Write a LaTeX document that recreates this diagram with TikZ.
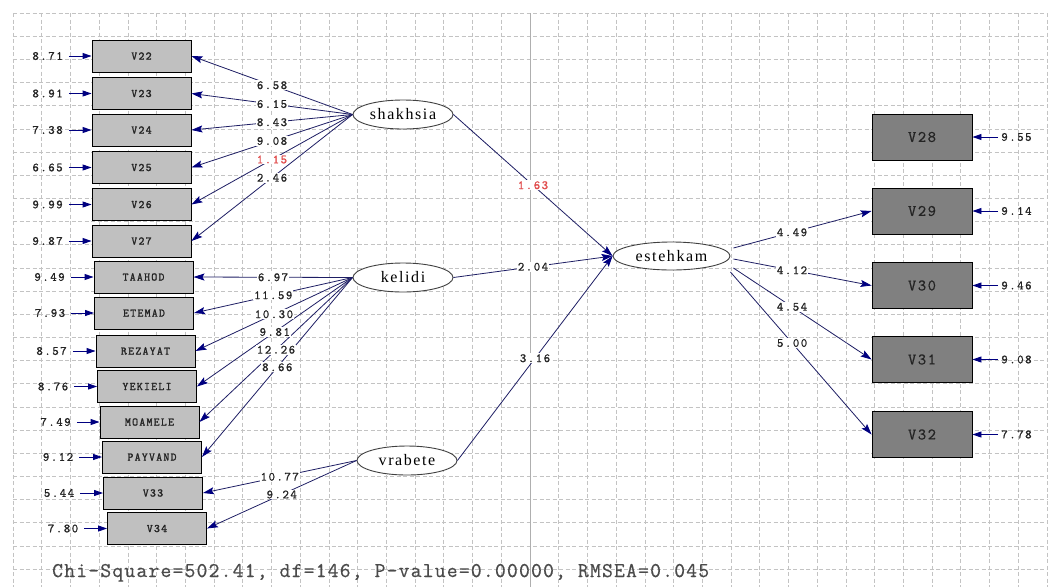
\documentclass[tikz,border=0pt]{standalone}
\usepackage{fontspec}
\setmainfont{Liberation Serif}
\usetikzlibrary{arrows.meta,shapes.geometric}
\definecolor{navy}{RGB}{0,0,128}
\definecolor{pathc}{RGB}{30,30,100}
\definecolor{lgray}{RGB}{192,192,192}
\definecolor{dgray}{RGB}{128,128,128}
\definecolor{gridc}{RGB}{195,195,195}
\definecolor{centc}{RGB}{175,175,175}
\definecolor{redl}{RGB}{225,75,75}
\definecolor{txt}{RGB}{35,35,35}
\definecolor{chic}{RGB}{75,75,75}
\newfontfamily\lismono[LetterSpace=12,FakeBold=1]{Latin Modern Mono}
\newfontfamily\boxmono[LetterSpace=11,FakeBold=1.6]{Latin Modern Mono}
\newfontfamily\bigmono[LetterSpace=10,FakeBold=0.8]{Latin Modern Mono}
\newfontfamily\chimono[LetterSpace=5.8,FakeBold=0.5]{Latin Modern Mono}
\newfontfamily\lisserif[LetterSpace=10]{Liberation Serif}
\tikzset{
  gridl/.style={gridc, dash pattern=on 4pt off 2.5pt, line width=0.7pt},
  lbox/.style={draw=black, fill=lgray, minimum width=99pt, minimum height=32pt, inner sep=0pt, line width=0.9pt, text=txt, font=\boxmono\fontsize{11.5}{12}\selectfont},
  rbox/.style={draw=black, fill=dgray, minimum width=100pt, minimum height=46pt, inner sep=0pt, line width=0.9pt, text=txt, font=\bigmono\fontsize{16}{16}\selectfont},
  lat/.style={ellipse, draw=black!75, fill=white, line width=0.9pt, minimum width=100pt, minimum height=29pt, inner sep=0pt, font=\lisserif\fontsize{16}{16}\selectfont},
  load/.style={draw=pathc, line width=0.8pt, -{Stealth[length=11pt,width=7pt,inset=2pt,color=navy]}},
  val/.style={fill=white, inner sep=1pt, text=txt, font=\lismono\fontsize{12.5}{13}\selectfont},
  redval/.style={val, text=redl},
  elab/.style={inner sep=1pt, text=txt, font=\lismono\fontsize{12.5}{13}\selectfont},
  errar/.style={draw=navy, line width=0.9pt, -{Triangle[length=9pt,width=6pt]}}
}
\begin{document}
\begin{tikzpicture}[x=1pt,y=-1pt]
\fill[white] (0,0) rectangle (1051,587);
\useasboundingbox (0,0) rectangle (1051,587);
% grid
\foreach \k in {0,...,24} \draw[gridl] (13,{13+23.17*\k}) -- (1047,{13+23.17*\k});
\foreach \k in {0,...,36} \draw[gridl] ({13+28.72*\k},13) -- ({13+28.72*\k},587);
\draw[centc, line width=0.8pt] (530,13) -- (530,587);

% observed variables, left
\node[lbox] (V22) at (141.5,56) {V22};
\node[lbox] (V23) at (141.5,93.5) {V23};
\node[lbox] (V24) at (141.5,130) {V24};
\node[lbox] (V25) at (141.5,167.5) {V25};
\node[lbox] (V26) at (141.5,204.5) {V26};
\node[lbox] (V27) at (141.5,241) {V27};
\node[lbox] (TAAHOD) at (143.5,277) {TAAHOD};
\node[lbox] (ETEMAD) at (144,313) {ETEMAD};
\node[lbox] (REZAYAT) at (145.5,351) {REZAYAT};
\node[lbox] (YEKIELI) at (147,386.5) {YEKIELI};
\node[lbox] (MOAMELE) at (149.5,422) {MOAMELE};
\node[lbox] (PAYVAND) at (152,457) {PAYVAND};
\node[lbox] (V33) at (153,493) {V33};
\node[lbox] (V34) at (157,528.5) {V34};

% observed variables, right
\node[rbox] (V28) at (922,137) {V28};
\node[rbox] (V29) at (922,211) {V29};
\node[rbox] (V30) at (922,285.5) {V30};
\node[rbox] (V31) at (922,359.5) {V31};
\node[rbox] (V32) at (922,434.5) {V32};

% latent variables
\node[lat] (shakhsia) at (403,114.5) {shakhsia};
\node[lat] (kelidi) at (403,277.5) {kelidi};
\node[lat] (vrabete) at (407,460.5) {vrabete};
\node[lat, minimum width=117pt, minimum height=28pt] (estehkam) at (671.5,256) {estehkam};

% error terms, left
\foreach \b/\v in {V22/8.71, V23/8.91, V24/7.38, V25/6.65, V26/9.99, V27/9.87, TAAHOD/9.49, ETEMAD/7.93, REZAYAT/8.57, YEKIELI/8.76, MOAMELE/7.49, PAYVAND/9.12, V33/5.44, V34/7.80}{
  \node[elab] (e\b) at ([xshift=-44pt]\b.west) {\v};
  \draw[errar, shorten <=5pt] (e\b.east) -- (\b.west);
}
% error terms, right
\foreach \b/\v in {V28/9.55, V29/9.14, V30/9.46, V31/9.08, V32/7.78}{
  \node[elab] (e\b) at ([xshift=44pt]\b.east) {\v};
  \draw[errar, shorten <=2pt] (e\b.west) -- (\b.east);
}

% loadings: lines
\foreach \b in {V22,V23,V24,V25,V26,V27} \draw[load] (shakhsia.west) -- (\b.east);
\foreach \b in {TAAHOD,ETEMAD,REZAYAT,YEKIELI,MOAMELE,PAYVAND} \draw[load] (kelidi.west) -- (\b.east);
\foreach \b in {V33,V34} \draw[load] (vrabete.west) -- (\b.east);
\draw[load] (shakhsia.east) -- (estehkam.west);
\draw[load] (kelidi.east) -- (estehkam.west);
\draw[load] (vrabete.east) -- (estehkam.west);
\draw[load] ([shift={(3,-8)}]estehkam.east) -- (V29.west);
\draw[load] ([shift={(3,3)}]estehkam.east) -- (V30.west);
\draw[load] ([shift={(3,12)}]estehkam.east) -- (V31.west);
\draw[load] ([shift={(0,16)}]estehkam.east) -- (V32.west);

% loadings: values
\foreach \b/\v in {V22/6.58, V23/6.15, V24/8.43, V25/9.08, V27/2.46} \path (shakhsia.west) -- node[val]{\v} (\b.east);
\path (shakhsia.west) -- node[redval]{1.15} (V26.east);
\foreach \b/\v in {TAAHOD/6.97, ETEMAD/11.59, REZAYAT/10.30, YEKIELI/9.81, MOAMELE/12.26, PAYVAND/8.66} \path (kelidi.west) -- node[val]{\v} (\b.east);
\foreach \b/\v in {V33/10.77, V34/9.24} \path (vrabete.west) -- node[val]{\v} (\b.east);
\path (shakhsia.east) -- node[redval]{1.63} (estehkam.west);
\path (kelidi.east) -- node[val]{2.04} (estehkam.west);
\path (vrabete.east) -- node[val]{3.16} (estehkam.west);
\path ([shift={(3,-8)}]estehkam.east) -- node[val,pos=0.424]{4.49} (V29.west);
\path ([shift={(3,3)}]estehkam.east) -- node[val,pos=0.424]{4.12} (V30.west);
\path ([shift={(3,12)}]estehkam.east) -- node[val,pos=0.424]{4.54} (V31.west);
\path ([shift={(0,16)}]estehkam.east) -- node[val,pos=0.437]{5.00} (V32.west);

% fit statistics
\node[anchor=base west, inner sep=0pt, text=chic, font=\chimono\fontsize{21}{21}\selectfont] (chi) at (52,577) {Chi-Square=502.41, df=146, P-value=0.00000, RMSEA=0.045};
\end{tikzpicture}
\end{document}
